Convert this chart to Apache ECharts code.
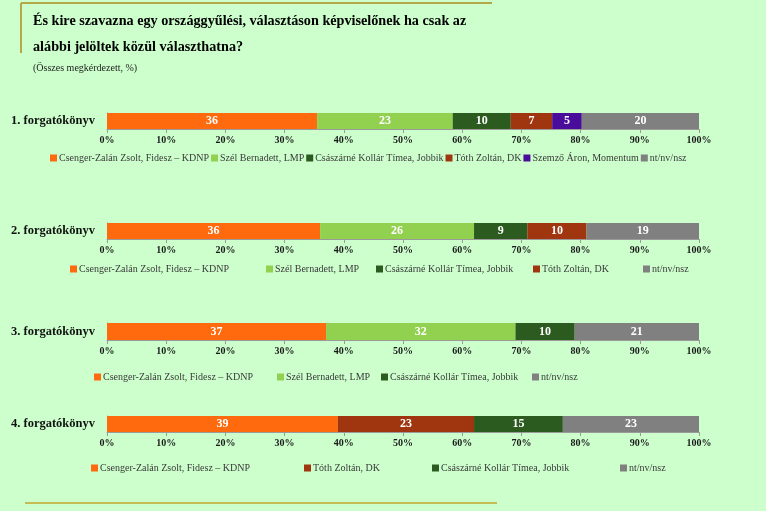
<!DOCTYPE html>
<html><head><meta charset="utf-8">
<script src="https://cdn.jsdelivr.net/npm/echarts@6/dist/echarts.min.js"></script>
<style>html,body{margin:0;padding:0;background:#ccffcc}#c{width:766px;height:511px}</style>
</head><body><div id="c"></div>
<script>
// ---- data ----
const titleText = 'És kire szavazna egy országgyűlési, választáson képviselőnek ha csak az\nalábbi jelöltek közül választhatna?';
const subtitleText = '(Összes megkérdezett, %)';
const scenarios = ['1. forgatókönyv', '2. forgatókönyv', '3. forgatókönyv', '4. forgatókönyv'];
const FIDESZ = 'Csenger-Zalán Zsolt, Fidesz – KDNP';
const LMP = 'Szél Bernadett, LMP';
const JOBBIK = 'Császárné Kollár Tímea, Jobbik';
const DK = 'Tóth Zoltán, DK';
const MOMENTUM = 'Szemző Áron, Momentum';
const NT = 'nt/nv/nsz';

const s1Names = [FIDESZ, LMP, JOBBIK, DK, MOMENTUM, NT];
const s1Values = [35.5, 22.9, 9.8, 7.0, 5.0, 19.8];
const s2Names = [FIDESZ, LMP, JOBBIK, DK, NT];
const s2Values = [36, 26, 9, 10, 19];
const s3Names = [FIDESZ, LMP, JOBBIK, NT];
const s3Values = [37, 32, 10, 21];
const s4Names = [FIDESZ, DK, JOBBIK, NT];
const s4Values = [39, 23, 15, 23];
const xTicks = [0, 10, 20, 30, 40, 50, 60, 70, 80, 90, 100];

// ---- styles / layout ----
const colors = {};
colors[FIDESZ] = '#ff6a0e';
colors[LMP] = '#92d050';
colors[JOBBIK] = '#2b5b1f';
colors[DK] = '#a0360f';
colors[MOMENTUM] = '#4a0d9b';
colors[NT] = '#808080';

const serif = '"Liberation Serif", "DejaVu Serif", serif';
const sets = [
  { names: s1Names, values: s1Values, top: 113, h: 16, legendY: 153, legendX: null, legendLeft: 50 },
  { names: s2Names, values: s2Values, top: 223, h: 16, legendY: 264, legendX: [70, 266, 376, 533, 643] },
  { names: s3Names, values: s3Values, top: 323, h: 17, legendY: 372, legendX: [94, 277, 381, 532] },
  { names: s4Names, values: s4Values, top: 416, h: 16, legendY: 463, legendX: [91, 304, 432, 620] }
];

const legendText = { color: '#3a3a3a', fontFamily: serif, fontSize: 10, padding: [0, 0, 0, -3] };
const grids = [], xAxes = [], yAxes = [], series = [], legends = [];
sets.forEach((s, i) => {
  grids.push({ left: 107, width: 592, top: s.top, height: s.h });
  xAxes.push({
    type: 'value', gridIndex: i, min: xTicks[0], max: xTicks[xTicks.length - 1], interval: 10,
    splitLine: { show: false },
    axisLine: { show: true, lineStyle: { color: '#9a9a9a', width: 1 } },
    axisTick: { show: true, length: 4, lineStyle: { color: '#9a9a9a' } },
    axisLabel: { formatter: '{value}%', color: '#1a1a1a', fontFamily: serif, fontWeight: 'bold', fontSize: 10, margin: 6 }
  });
  yAxes.push({
    type: 'category', gridIndex: i, data: [scenarios[i]],
    axisLine: { show: true, lineStyle: { color: '#9a9a9a', width: 1 } },
    axisTick: { show: false },
    axisLabel: { color: '#111', fontFamily: serif, fontWeight: 'bold', fontSize: 12.5, margin: 12 }
  });
  s.names.forEach((n, k) => {
    series.push({
      type: 'bar', name: n, stack: 'st' + i, xAxisIndex: i, yAxisIndex: i,
      barWidth: s.h, data: [s.values[k]],
      itemStyle: { color: colors[n] },
      label: { show: true, position: 'inside', color: '#fff', fontFamily: serif, fontWeight: 'bold', fontSize: 12,
        formatter: p => String(Math.round(p.value)) }
    });
  });
  if (s.legendX) {
    s.names.forEach((n, k) => {
      legends.push({
        data: [n], left: s.legendX[k], top: s.legendY, icon: 'rect', itemWidth: 7, itemHeight: 7,
        padding: 0, selectedMode: false, textStyle: legendText
      });
    });
  } else {
    legends.push({
      data: s.names, left: s.legendLeft, top: s.legendY, icon: 'rect', itemWidth: 7, itemHeight: 7,
      itemGap: 2, padding: 0, selectedMode: false, textStyle: legendText
    });
  }
});

const chart = echarts.init(document.getElementById('c'));
chart.setOption({
  backgroundColor: '#ccffcc',
  animation: false,
  title: [
    { text: titleText, left: 28, top: 3, textStyle: { fontFamily: serif, fontWeight: 'bold', fontSize: 14.2, color: '#000', lineHeight: 26 } },
    { text: subtitleText, left: 28, top: 58, textStyle: { fontFamily: serif, fontWeight: 'normal', fontSize: 10, color: '#222' } }
  ],
  graphic: [
    { type: 'line', shape: { x1: 21, y1: 3, x2: 492, y2: 3 }, style: { stroke: '#b5a84a', lineWidth: 2 } },
    { type: 'line', shape: { x1: 21, y1: 3, x2: 21, y2: 53 }, style: { stroke: '#b5a84a', lineWidth: 2 } },
    { type: 'line', shape: { x1: 25, y1: 503, x2: 497, y2: 503 }, style: { stroke: '#c4bd55', lineWidth: 2 } }
  ],
  grid: grids, xAxis: xAxes, yAxis: yAxes, series: series, legend: legends
});
</script></body></html>
